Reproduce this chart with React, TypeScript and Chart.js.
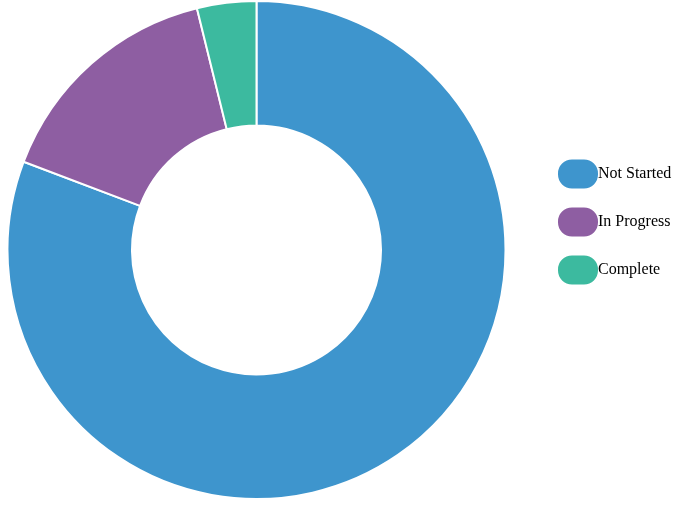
import React, { useEffect, useRef } from "react";
import { Chart, registerables } from "chart.js";

Chart.register(...registerables);

const categories = ["Not Started", "In Progress", "Complete"];
const counts = [21, 4, 1];
const colors = ["#3e95cd", "#8e5ea2", "#3cba9f"];

const LEGEND_WIDTH = 186;
const LEGEND_SHIFT_X = 21;
const LEGEND_SHIFT_Y = -28;

const legendLayout = {
  id: "legendLayout",
  beforeUpdate(chart: any) {
    const legend = chart.legend;
    if (legend && !legend.__patched) {
      const fit = legend.fit;
      legend.fit = function () {
        fit.call(this);
        this.width = LEGEND_WIDTH;
      };
      legend.__patched = true;
    }
  },
  afterLayout(chart: any) {
    const l = chart.legend;
    if (!l) return;
    l.left += LEGEND_SHIFT_X;
    l.right += LEGEND_SHIFT_X;
    l.top += LEGEND_SHIFT_Y;
    l.bottom += LEGEND_SHIFT_Y;
  },
};

export default function App() {
  const ref = useRef<HTMLCanvasElement | null>(null);
  useEffect(() => {
    if (!ref.current) return;
    const chart = new Chart(ref.current, {
      type: "doughnut",
      data: {
        labels: categories,
        datasets: [
          {
            data: counts,
            backgroundColor: colors,
            borderColor: "#ffffff",
            borderWidth: 2,
            hoverOffset: 0,
          },
        ],
      },
      options: {
        responsive: false,
        animation: false,
        cutout: "50%",
        layout: { padding: 0 },
        plugins: {
          tooltip: { enabled: false },
          legend: {
            display: true,
            position: "right",
            align: "center",
            labels: {
              boxWidth: 24,
              boxHeight: 13,
              useBorderRadius: true,
              borderRadius: 6,
              padding: 32,
              color: "#000000",
              font: {
                family: "Liberation Serif",
                size: 16,
              },
              generateLabels: (c: any) => {
                const items = (Chart as any).overrides.doughnut.plugins.legend.labels.generateLabels(c);
                return items.map((it: any) => ({
                  ...it,
                  strokeStyle: it.fillStyle,
                  lineWidth: 16,
                  lineJoin: "round",
                  borderRadius: 6,
                  fontColor: "#000000",
                }));
              },
            },
          },
        },
      },
      plugins: [legendLayout],
    } as any);
    return () => chart.destroy();
  }, []);
  return (
    <div style={{ position: "absolute", left: 0, top: 0, width: 699, height: 500 }}>
      <canvas ref={ref} width={699} height={500} style={{ display: "block" }} />
    </div>
  );
}
